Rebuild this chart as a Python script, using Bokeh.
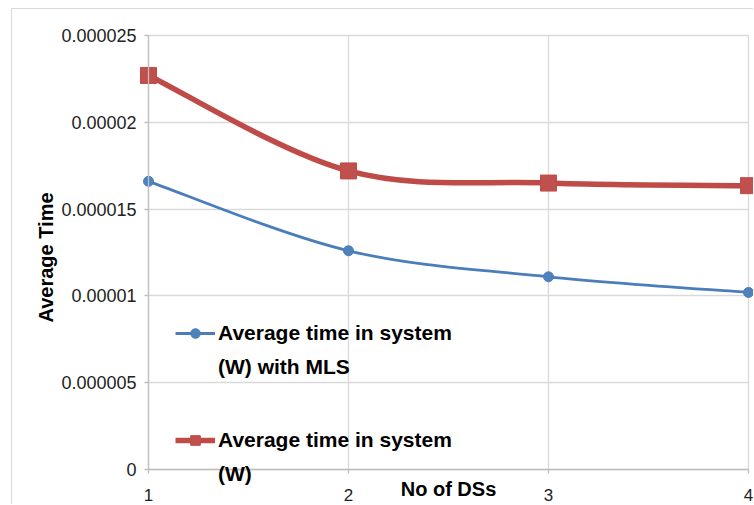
import numpy as np
from bokeh.plotting import figure
from bokeh.models import (FixedTicker, Legend, LegendItem, ColumnDataSource, Title)
from bokeh.embed import file_html
from bokeh.resources import INLINE

# ---- data ----
x_vals = [1, 2, 3, 4]
mls = [1.66e-5, 1.26e-5, 1.11e-5, 1.02e-5]
plain = [2.27e-5, 1.72e-5, 1.65e-5, 1.635e-5]
y_ticks = [0, 0.000005, 0.00001, 0.000015, 0.00002, 0.000025]
y_tick_labels = ["0", "0.000005", "0.00001", "0.000015", "0.00002", "0.000025"]
x_ticks = [1, 2, 3, 4]
x_tick_labels = ["1", "2", "3", "4"]
series_first = ["Average time in system", "Average time in system"]
series_second = ["(W) with MLS", "(W)"]

BLUE_LINE = "#4A7EBB"
BLUE_FILL = "#4F81BD"
RED_LINE = "#BE4B48"
RED_FILL = "#C0504D"
FONT = "Liberation Sans"

# plotted value window (axes / grid) and the padded view around it,
# so that tick labels and the overflowing legend text are not clipped
X_LO, X_HI = 1, 4
Y_LO, Y_HI = 0, 0.000025
VIEW_X = (0.54, 4.03)
VIEW_Y = (-0.0000020737, 0.000026498)

p = figure(width=742, height=496, output_backend="svg", toolbar_location=None,
           x_range=VIEW_X, y_range=VIEW_Y,
           min_border_left=44, min_border_right=0, min_border_top=0, min_border_bottom=0)
p.margin = (8, 0, 0, 11)
p.styles = {"border-left": "1px solid #d9d9d9", "border-top": "1px solid #d9d9d9"}
p.outline_line_color = None
p.background_fill_color = "white"
p.border_fill_color = "white"

# grid
p.xgrid.ticker = FixedTicker(ticks=x_ticks)
p.ygrid.ticker = FixedTicker(ticks=y_ticks)
for g in (p.xgrid, p.ygrid):
    g.grid_line_color = "#d9d9d9"
    g.grid_line_width = 1.3
p.xgrid.cross_bounds = (Y_LO, Y_HI)
p.ygrid.cross_bounds = (X_LO, X_HI)

# axes
p.xaxis.ticker = FixedTicker(ticks=x_ticks)
p.yaxis.ticker = FixedTicker(ticks=y_ticks)
p.xaxis.major_label_overrides = dict(zip(x_ticks, x_tick_labels))
p.yaxis.major_label_overrides = dict(zip(y_ticks, y_tick_labels))
p.xaxis.fixed_location = Y_LO
p.yaxis.fixed_location = X_LO
p.xaxis.bounds = (X_LO, X_HI)
p.yaxis.bounds = (Y_LO, Y_HI)
for ax in (p.xaxis, p.yaxis):
    ax.axis_line_color = "#bfbfbf"
    ax.axis_line_width = 1.3
    ax.major_tick_line_color = "#bfbfbf"
    ax.major_tick_line_width = 1.3
    ax.major_tick_out = 4
    ax.major_tick_in = 0
    ax.minor_tick_line_color = None
    ax.major_label_text_font = FONT
    ax.major_label_text_color = "#222222"
    ax.axis_label_text_font = FONT
    ax.axis_label_text_font_style = "bold"
    ax.axis_label_text_color = "#000000"

p.yaxis.major_label_text_font_size = "18px"
p.yaxis.major_label_standoff = 8

p.xaxis.major_label_text_font_size = "17px"
p.xaxis.axis_label = "No of DSs"
p.xaxis.axis_label_text_font_size = "20px"
p.xaxis.major_label_standoff = 15
p.xaxis.axis_label_standoff = -26

ytitle = Title(text="Average Time", align="center", text_font=FONT,
               text_font_style="bold", text_font_size="20px", text_color="#000000",
               standoff=0)
p.add_layout(ytitle, "left")


def bezier_parts(xs, ys):
    P = np.column_stack([xs, ys]).astype(float)
    n = len(P)
    x0, y0, x1, y1, cx0, cy0, cx1, cy1 = ([] for _ in range(8))
    for i in range(n - 1):
        pm = P[max(i - 1, 0)]
        pa = P[i]
        pb = P[i + 1]
        pp = P[min(i + 2, n - 1)]
        c0 = pa + (pb - pm) / 6.0
        c1 = pb - (pp - pa) / 6.0
        x0.append(pa[0]); y0.append(pa[1])
        x1.append(pb[0]); y1.append(pb[1])
        cx0.append(c0[0]); cy0.append(c0[1])
        cx1.append(c1[0]); cy1.append(c1[1])
    return dict(x0=x0, y0=y0, x1=x1, y1=y1, cx0=cx0, cy0=cy0, cx1=cx1, cy1=cy1)


# red series
p.bezier(source=ColumnDataSource(bezier_parts(x_vals, plain)), x0="x0", y0="y0", x1="x1", y1="y1",
         cx0="cx0", cy0="cy0", cx1="cx1", cy1="cy1",
         line_color=RED_LINE, line_width=5.5, line_cap="round")
red_sc = p.scatter(x_vals, plain, marker="square", size=16, fill_color=RED_FILL,
                   line_color=RED_LINE, line_width=1)
red_leg_line = p.line(x_vals[:1], plain[:1], line_color=RED_LINE, line_width=5.5)

# blue series
p.bezier(source=ColumnDataSource(bezier_parts(x_vals, mls)), x0="x0", y0="y0", x1="x1", y1="y1",
         cx0="cx0", cy0="cy0", cx1="cx1", cy1="cy1",
         line_color=BLUE_LINE, line_width=2.8, line_cap="round")
blue_sc = p.scatter(x_vals, mls, marker="circle", size=10, fill_color=BLUE_FILL,
                    line_color=BLUE_LINE, line_width=1)
blue_leg_line = p.line(x_vals[:1], mls[:1], line_color=BLUE_LINE, line_width=2.8)

blank = p.line(x_vals[:1], mls[:1], line_alpha=0)


def make_legend(first, second, rends, loc):
    lg = Legend(items=[LegendItem(label=first, renderers=rends),
                       LegendItem(label=second, renderers=[blank])], location=loc)
    lg.background_fill_alpha = 0
    lg.border_line_color = None
    lg.padding = 0
    lg.margin = 0
    lg.spacing = 10
    lg.glyph_width = 40
    lg.glyph_height = 24
    lg.label_height = 24
    lg.label_standoff = 3
    lg.label_text_font = FONT
    lg.label_text_font_style = "bold"
    lg.label_text_font_size = "21px"
    lg.label_text_color = "#000000"
    return lg


p.add_layout(make_legend(series_first[0], series_second[0], [blue_leg_line, blue_sc], (119, 126)), "center")
p.add_layout(make_legend(series_first[1], series_second[1], [red_leg_line, red_sc], (119, 19)), "center")

open("out.html", "w").write(file_html(p, INLINE))
